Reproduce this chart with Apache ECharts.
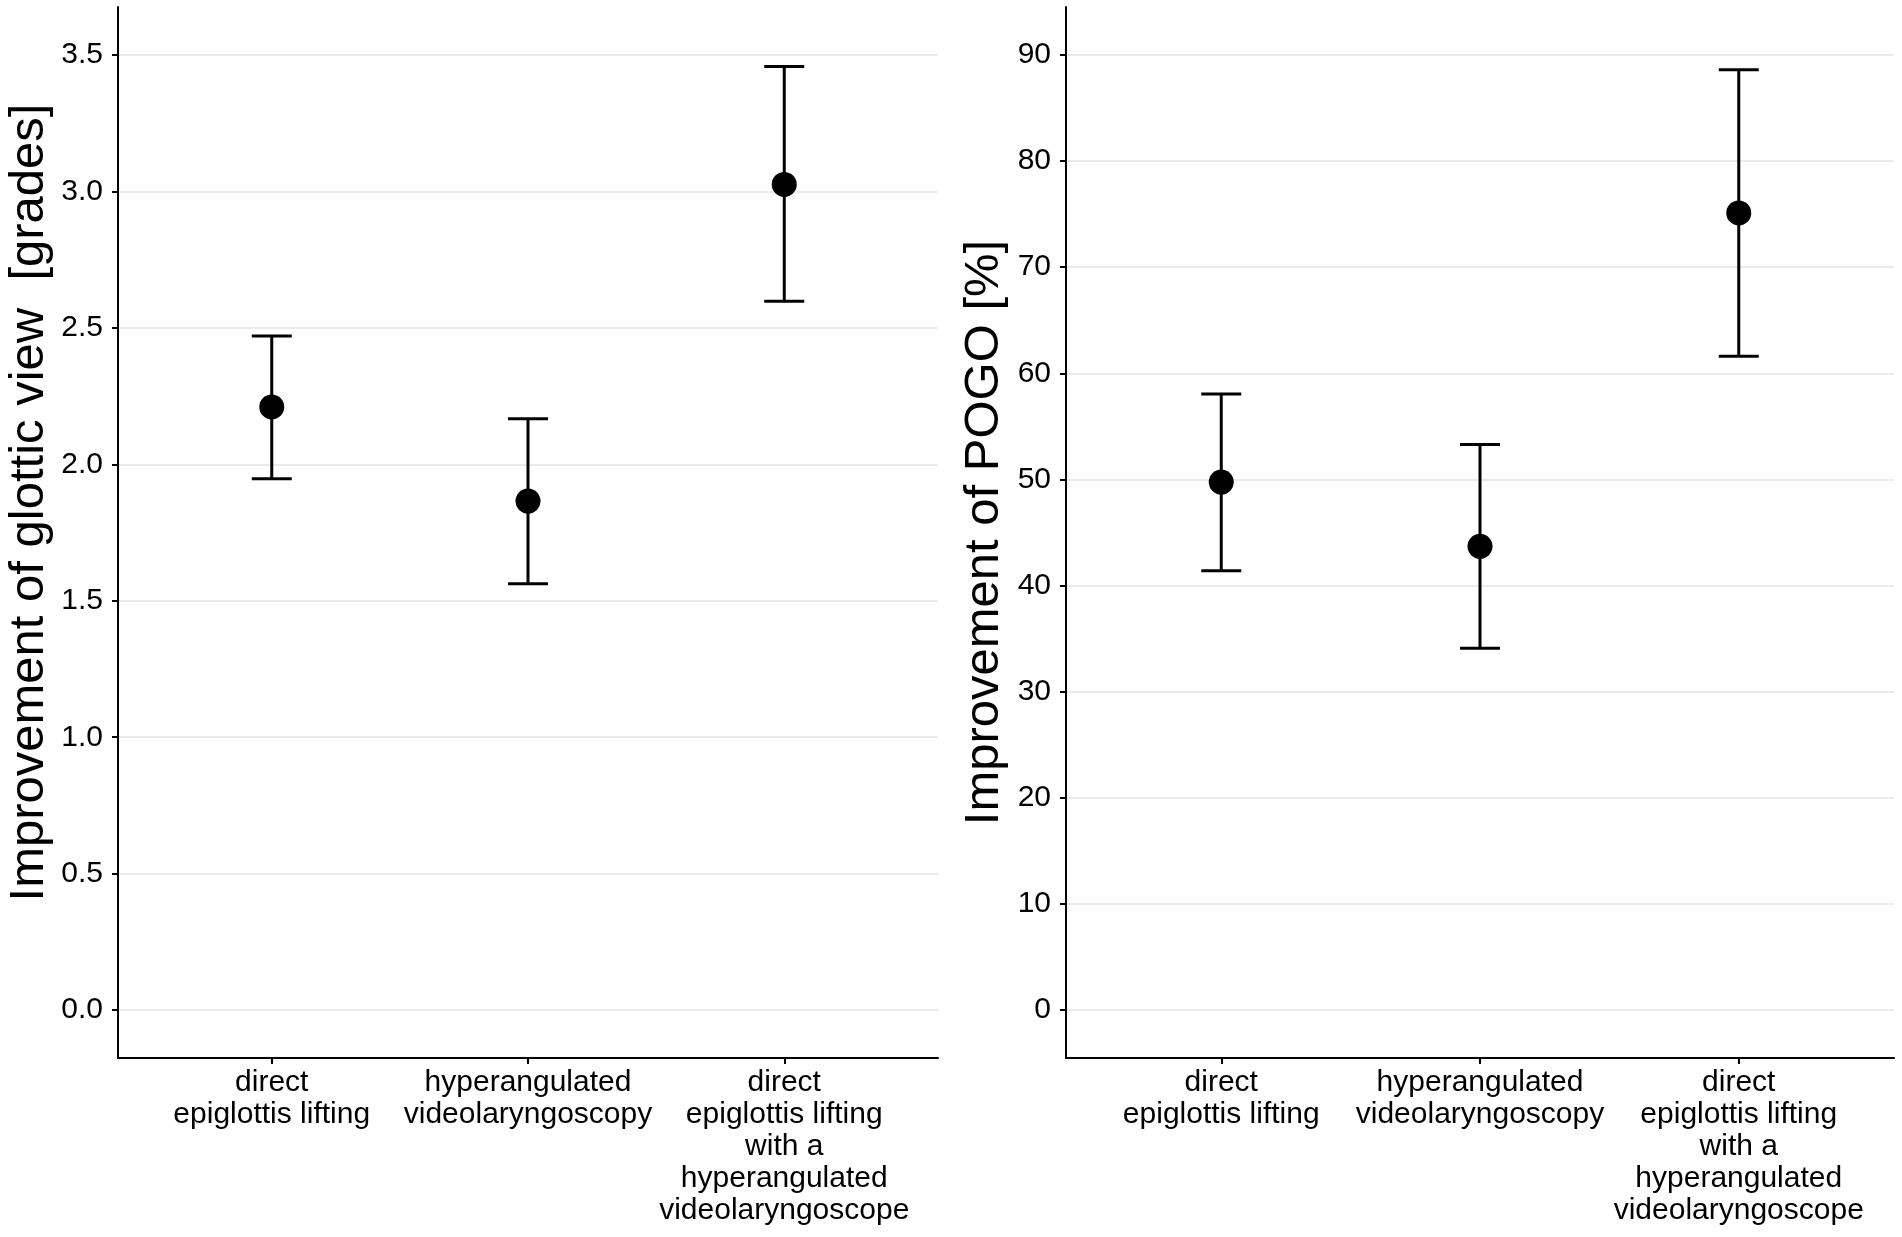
<!DOCTYPE html>
<html>
<head>
    <meta charset="UTF-8">
    <title>Improvement of glottic view and POGO</title>
    <script src="https://cdn.jsdelivr.net/npm/echarts@6/dist/echarts.min.js"></script>
    <style>
        html, body { margin: 0; padding: 0; background: #fff; }
        #main { width: 1902px; height: 1237px; }
    </style>
</head>
<body>
    <div id="main"></div>
    <script>
        // ---- data ----
        const categories = [
            'direct\nepiglottis lifting',
            'hyperangulated\nvideolaryngoscopy',
            'direct\nepiglottis lifting\nwith a\nhyperangulated\nvideolaryngoscope'
        ];
        const catPos = [1, 2, 3];

        const gradeMean = [2.21, 1.865, 3.025];
        const gradeLow  = [1.947, 1.562, 2.597];
        const gradeHigh = [2.47, 2.167, 3.457];

        const pogoMean = [49.75, 43.7, 75.1];
        const pogoLow  = [41.4, 34.1, 61.6];
        const pogoHigh = [58.05, 53.3, 88.6];

        const gradeTicks = [0, 0.5, 1, 1.5, 2, 2.5, 3, 3.5];
        const pogoTicks = [0, 10, 20, 30, 40, 50, 60, 70, 80, 90];

        const yTitles = ['Improvement of glottic view  [grades]', 'Improvement of POGO [%]'];
        // --------------

        const font = 'Liberation Sans, Arial, Helvetica, sans-serif';
        const ink = '#000';

        function xAxis(gridIndex) {
            return {
                type: 'value', gridIndex: gridIndex,
                min: 0.4, max: 3.6,
                axisLine: { show: true, onZero: false, lineStyle: { color: ink, width: 2 } },
                axisTick: { show: true, customValues: catPos, length: 6, lineStyle: { color: ink, width: 2 } },
                axisLabel: {
                    customValues: catPos,
                    margin: 9,
                    fontFamily: font, fontSize: 30, lineHeight: 32, color: ink,
                    align: 'center',
                    formatter: v => categories[Math.round(v) - 1] || ''
                },
                splitLine: { show: false }
            };
        }

        function yAxis(gridIndex, min, max, ticks, title, gap, pad, fmt) {
            return {
                type: 'value', gridIndex: gridIndex,
                min: min, max: max,
                name: title,
                nameLocation: 'middle',
                nameGap: gap,
                nameMoveOverlap: false,
                nameTextStyle: { fontFamily: font, fontSize: 49, color: ink, padding: pad },
                axisLine: { show: true, onZero: false, lineStyle: { color: ink, width: 2 } },
                axisTick: { show: true, customValues: ticks, length: 6, lineStyle: { color: ink, width: 2 } },
                axisLabel: {
                    customValues: ticks, margin: 15,
                    fontFamily: font, fontSize: 30, color: ink,
                    formatter: fmt
                },
                splitLine: { show: true, lineStyle: { color: '#ebebeb', width: 2 } }
            };
        }

        function errorBars(xIdx, lows, highs) {
            return {
                type: 'custom',
                xAxisIndex: xIdx, yAxisIndex: xIdx,
                data: catPos.map((x, i) => [x, lows[i], highs[i]]),
                renderItem: function (params, api) {
                    const lo = api.coord([api.value(0), api.value(1)]);
                    const hi = api.coord([api.value(0), api.value(2)]);
                    const half = 20;
                    const style = { stroke: '#000', lineWidth: 3 };
                    return {
                        type: 'group',
                        children: [
                            { type: 'line', shape: { x1: lo[0], y1: lo[1], x2: hi[0], y2: hi[1] }, style: style },
                            { type: 'line', shape: { x1: lo[0] - half, y1: lo[1], x2: lo[0] + half, y2: lo[1] }, style: style },
                            { type: 'line', shape: { x1: hi[0] - half, y1: hi[1], x2: hi[0] + half, y2: hi[1] }, style: style }
                        ]
                    };
                },
                z: 3
            };
        }

        function points(xIdx, means) {
            return {
                type: 'scatter',
                xAxisIndex: xIdx, yAxisIndex: xIdx,
                data: catPos.map((x, i) => [x, means[i]]),
                symbol: 'circle', symbolSize: 25,
                itemStyle: { color: '#000', opacity: 1 },
                z: 4
            };
        }

        const chart = echarts.init(document.getElementById('main'));
        chart.setOption({
            animation: false,
            backgroundColor: '#fff',
            grid: [
                { left: 118, right: 1902 - 938, top: 7, bottom: 1237 - 1058 },
                { left: 1066, right: 1902 - 1894, top: 7, bottom: 1237 - 1058 }
            ],
            xAxis: [xAxis(0), xAxis(1)],
            yAxis: [
                yAxis(0, -0.175, 3.675, gradeTicks, yTitles[0], 64, [0, 0, 0, 60], v => v.toFixed(1)),
                yAxis(1, -4.5, 94.5, pogoTicks, yTitles[1], 57, [0, 0, 0, 0], v => String(v))
            ],
            series: [
                errorBars(0, gradeLow, gradeHigh),
                points(0, gradeMean),
                errorBars(1, pogoLow, pogoHigh),
                points(1, pogoMean)
            ]
        });
    </script>
</body>
</html>
